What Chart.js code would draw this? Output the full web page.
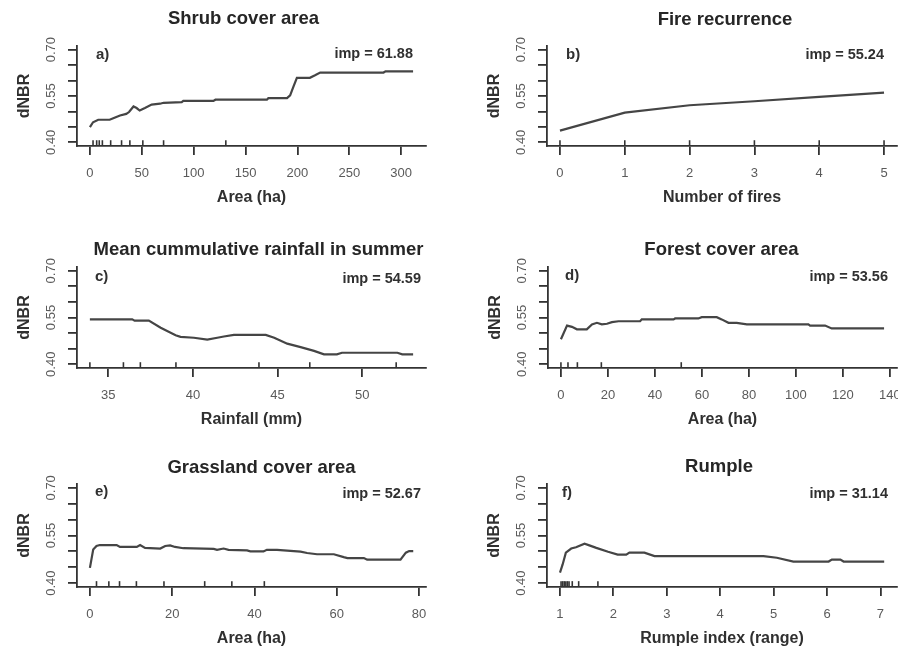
<!DOCTYPE html>
<html>
<head>
<meta charset="utf-8">
<title>Partial dependence of dNBR</title>
<script src="https://cdn.jsdelivr.net/npm/chart.js@4.4.1/dist/chart.umd.min.js"></script>
<style>
  html, body { margin: 0; padding: 0; width: 898px; height: 647px; overflow: hidden; background: #fff; }
  canvas { position: absolute; }
</style>
</head>
<body>
<canvas id="panelA"></canvas>
<canvas id="panelB"></canvas>
<canvas id="panelC"></canvas>
<canvas id="panelD"></canvas>
<canvas id="panelE"></canvas>
<canvas id="panelF"></canvas>
<script>
/* === DATA === */
const yTicks = [0.40, 0.45, 0.50, 0.55, 0.60, 0.65, 0.70];
const yLabels = [0.40, 0.55, 0.70];
const yRange = [0.388, 0.712];

// a) Shrub cover area
const shrubArea = [0, 3, 8, 19, 22.5, 29, 35, 37.7, 42, 45, 48, 53, 59.5, 67.6, 71, 88.5, 90, 119, 121, 170.6, 172, 190, 193, 196, 199.5, 212, 217, 222, 283, 285, 311.5];
const shrubDnbr = [0.449, 0.465, 0.473, 0.473, 0.478, 0.487, 0.492, 0.498, 0.516, 0.511, 0.503, 0.511, 0.522, 0.525, 0.528, 0.530, 0.534, 0.534, 0.538, 0.538, 0.543, 0.543, 0.552, 0.579, 0.609, 0.609, 0.617, 0.626, 0.626, 0.630, 0.630];
const shrubRug = [3, 6.5, 9, 12, 20, 30.5, 38.5, 51, 71, 131];
const shrubTicks = [0, 50, 100, 150, 200, 250, 300];

// b) Fire recurrence
const fires = [0, 1, 2, 3, 4, 5];
const firesDnbr = [0.438, 0.496, 0.520, 0.533, 0.547, 0.561];
const firesRug = [0, 1, 2, 3, 4, 5];
const firesTicks = [0, 1, 2, 3, 4, 5];

// c) Mean cumulative rainfall in summer
const rainfall = [33.92, 36.42, 36.56, 37.4, 38.1, 38.98, 39.27, 40.06, 40.85, 41.44, 41.83, 42.42, 44.3, 44.8, 45.57, 46.36, 47.15, 47.74, 48.5, 48.8, 52.07, 52.36, 53.0];
const rainfallDnbr = [0.544, 0.544, 0.540, 0.540, 0.517, 0.493, 0.488, 0.485, 0.479, 0.485, 0.489, 0.494, 0.494, 0.485, 0.466, 0.455, 0.443, 0.432, 0.432, 0.437, 0.437, 0.432, 0.432];
const rainfallRug = [33.92, 35.9, 36.9, 39.0, 43.9, 46.9, 52.0];
const rainfallTicks = [35, 40, 45, 50];

// d) Forest cover area
const forestArea = [0, 2.6, 4.7, 6.8, 11, 13.2, 15.3, 17.4, 19.6, 21.7, 24.5, 33.7, 34.4, 47.9, 48.6, 58.5, 59.9, 66.3, 68.4, 71.3, 74.8, 79.1, 105.3, 106, 112.4, 115.2, 137.5];
const forestDnbr = [0.480, 0.524, 0.520, 0.512, 0.512, 0.528, 0.533, 0.528, 0.530, 0.535, 0.538, 0.538, 0.544, 0.544, 0.547, 0.547, 0.551, 0.551, 0.544, 0.533, 0.533, 0.528, 0.528, 0.524, 0.524, 0.515, 0.515];
const forestRug = [0, 3, 7, 17.2, 51.2];
const forestTicks = [0, 20, 40, 60, 80, 100, 120, 140];

// e) Grassland cover area
const grassArea = [0, 0.8, 1.6, 2.4, 6.5, 7.3, 11.4, 12.2, 13.4, 17.1, 18.3, 19.5, 20.7, 22.7, 30.1, 30.9, 32.5, 33.7, 38.2, 39, 42.2, 43, 45.5, 51.2, 52.8, 55.2, 59.3, 61.7, 62.6, 66.6, 67.4, 75.5, 76.8, 77.6, 78.6];
const grassDnbr = [0.448, 0.506, 0.517, 0.520, 0.520, 0.514, 0.514, 0.520, 0.511, 0.509, 0.517, 0.519, 0.514, 0.510, 0.508, 0.505, 0.509, 0.505, 0.503, 0.500, 0.500, 0.505, 0.505, 0.499, 0.495, 0.491, 0.491, 0.482, 0.479, 0.479, 0.474, 0.474, 0.496, 0.501, 0.501];
const grassRug = [1.6, 4.6, 7.2, 11.3, 18, 27.9, 34.5, 42.4];
const grassTicks = [0, 20, 40, 60, 80];

// f) Rumple
const rumple = [1.0, 1.05, 1.11, 1.21, 1.30, 1.46, 1.55, 1.68, 1.90, 2.08, 2.24, 2.30, 2.58, 2.77, 4.81, 5.06, 5.37, 6.03, 6.09, 6.25, 6.31, 7.07];
const rumpleDnbr = [0.433, 0.459, 0.496, 0.509, 0.513, 0.524, 0.519, 0.511, 0.499, 0.490, 0.490, 0.496, 0.496, 0.485, 0.485, 0.480, 0.468, 0.468, 0.474, 0.474, 0.468, 0.468];
const rumpleRug = [1.02, 1.05, 1.08, 1.11, 1.14, 1.17, 1.23, 1.35, 1.71];
const rumpleTicks = [1, 2, 3, 4, 5, 6, 7];

/* === STYLE / LAYOUT === */
const FONT = '"Liberation Sans", Arial, Helvetica, sans-serif';
const AXIS = "#333333";
const LINE = "#454545";
const TICK_TXT = "#5a5a5a";
const AXIS_W = 80;   // room left of the plot for y labels + title
const AXIS_H = 70;   // room below the plot for x labels + title
const PAD_T = 46;
const PAD_R = 25;

Chart.defaults.font.family = FONT;

const panels = [
  { id: "panelA", title: "Shrub cover area", letter: "a)", imp: "imp = 61.88", xTitle: "Area (ha)",
    xs: shrubArea, ys: shrubDnbr, rug: shrubRug, ticks: shrubTicks, xMin: -12.46, xMax: 323.96,
    box: { L: 77, R: 426, T: 46, B: 146 },
    txt: { titleDx: -8, titleDy: 27, letterDx: 19, letterDy: 9, impDx: 13, impDy: 8 } },
  { id: "panelB", title: "Fire recurrence", letter: "b)", imp: "imp = 55.24", xTitle: "Number of fires",
    xs: fires, ys: firesDnbr, rug: firesRug, ticks: firesTicks, xMin: -0.2, xMax: 5.2,
    box: { L: 547, R: 897, T: 46, B: 146 },
    txt: { titleDx: 3, titleDy: 26, letterDx: 19, letterDy: 9, impDx: 13, impDy: 9 } },
  { id: "panelC", title: "Mean cummulative rainfall in summer", letter: "c)", imp: "imp = 54.59", xTitle: "Rainfall (mm)",
    xs: rainfall, ys: rainfallDnbr, rug: rainfallRug, ticks: rainfallTicks, xMin: 33.16, xMax: 53.76,
    box: { L: 77, R: 426, T: 267, B: 368 },
    txt: { titleDx: 7, titleDy: 17, letterDx: 18, letterDy: 10, impDx: 5, impDy: 12 } },
  { id: "panelD", title: "Forest cover area", letter: "d)", imp: "imp = 53.56", xTitle: "Area (ha)",
    xs: forestArea, ys: forestDnbr, rug: forestRug, ticks: forestTicks, xMin: -5.5, xMax: 143,
    box: { L: 548, R: 897, T: 267, B: 368 },
    txt: { titleDx: -1, titleDy: 17, letterDx: 17, letterDy: 9, impDx: 9, impDy: 10 } },
  { id: "panelE", title: "Grassland cover area", letter: "e)", imp: "imp = 52.67", xTitle: "Area (ha)",
    xs: grassArea, ys: grassDnbr, rug: grassRug, ticks: grassTicks, xMin: -3.14, xMax: 81.7,
    box: { L: 77, R: 426, T: 484, B: 587 },
    txt: { titleDx: 10, titleDy: 16, letterDx: 18, letterDy: 8, impDx: 5, impDy: 10 } },
  { id: "panelF", title: "Rumple", letter: "f)", imp: "imp = 31.14", xTitle: "Rumple index (range)",
    xs: rumple, ys: rumpleDnbr, rug: rumpleRug, ticks: rumpleTicks, xMin: 0.757, xMax: 7.31,
    box: { L: 547, R: 897, T: 484, B: 587 },
    txt: { titleDx: -3, titleDy: 17, letterDx: 15, letterDy: 9, impDx: 9, impDy: 10 } }
];

/* === TEXT INSIDE / ABOVE THE PLOT === */
const panelText = {
  id: "panelText",
  afterDraw(chart, args, o) {
    const { ctx, chartArea: a } = chart;
    ctx.save();
    ctx.textBaseline = "middle";
    ctx.fillStyle = "#262626";
    ctx.font = `bold 18.5px ${FONT}`;
    ctx.textAlign = "center";
    ctx.fillText(o.title, (a.left + a.right) / 2 + o.titleDx, a.top - o.titleDy);
    ctx.fillStyle = "#303030";
    ctx.font = `bold 15px ${FONT}`;
    ctx.textAlign = "left";
    ctx.fillText(o.letter, a.left + o.letterDx, a.top + o.letterDy);
    ctx.font = `bold 14.5px ${FONT}`;
    ctx.textAlign = "right";
    ctx.fillText(o.imp, a.right - o.impDx, a.top + o.impDy);
    ctx.restore();
  }
};

function axisGrid() {
  return { display: true, drawOnChartArea: false, drawTicks: true, tickLength: 9, color: AXIS, lineWidth: 1.8 };
}

function makePanel(p) {
  const canvas = document.getElementById(p.id);
  const w = (p.box.R - p.box.L) + AXIS_W + PAD_R;
  const h = (p.box.B - p.box.T) + PAD_T + AXIS_H;
  canvas.width = w;
  canvas.height = h;
  canvas.style.width = w + "px";
  canvas.style.height = h + "px";
  canvas.style.left = (p.box.L - AXIS_W) + "px";
  canvas.style.top = (p.box.T - PAD_T) + "px";

  const rugY = yRange[0] + 0.009;

  return new Chart(canvas, {
    type: "scatter",
    data: {
      datasets: [
        {
          data: p.xs.map((x, i) => ({ x, y: p.ys[i] })),
          showLine: true,
          borderColor: LINE,
          borderWidth: 2.2,
          pointRadius: 0,
          tension: 0
        },
        {
          data: p.rug.map(x => ({ x, y: rugY })),
          showLine: false,
          pointStyle: "line",
          pointRotation: 90,
          pointRadius: 3,
          borderColor: AXIS,
          pointBorderColor: AXIS,
          borderWidth: 1.6,
          pointBorderWidth: 1.6
        }
      ]
    },
    options: {
      responsive: false,
      animation: false,
      events: [],
      layout: { padding: { top: PAD_T, right: PAD_R, left: 0, bottom: 0 } },
      plugins: {
        legend: { display: false },
        tooltip: { enabled: false },
        panelText: { title: p.title, letter: p.letter, imp: p.imp, ...p.txt }
      },
      scales: {
        x: {
          type: "linear",
          min: p.xMin,
          max: p.xMax,
          afterBuildTicks: s => { s.ticks = p.ticks.map(v => ({ value: v })); },
          afterFit: s => { s.height = AXIS_H; },
          grid: axisGrid(),
          border: { display: true, color: AXIS, width: 1.8 },
          ticks: { autoSkip: false, maxRotation: 0, padding: 11, color: TICK_TXT, font: { size: 13 },
                   callback: v => String(v) },
          title: { display: true, text: p.xTitle, color: "#303030", font: { size: 16, weight: "bold" },
                   padding: { top: 0, bottom: 8.4 } }
        },
        y: {
          type: "linear",
          min: yRange[0],
          max: yRange[1],
          afterBuildTicks: s => { s.ticks = yTicks.map(v => ({ value: v })); },
          afterFit: s => { s.width = AXIS_W; },
          grid: axisGrid(),
          border: { display: true, color: AXIS, width: 1.8 },
          ticks: {
            autoSkip: false, minRotation: 90, maxRotation: 90, crossAlign: "center", padding: 4,
            color: TICK_TXT, font: { size: 13 },
            callback: v => yLabels.some(l => Math.abs(l - v) < 1e-6) ? v.toFixed(2) : ""
          },
          title: { display: true, text: "dNBR", color: "#303030", font: { size: 16, weight: "bold" },
                   padding: { top: 18, bottom: 0 } }
        }
      }
    },
    plugins: [panelText]
  });
}

panels.forEach(makePanel);
</script>
</body>
</html>
